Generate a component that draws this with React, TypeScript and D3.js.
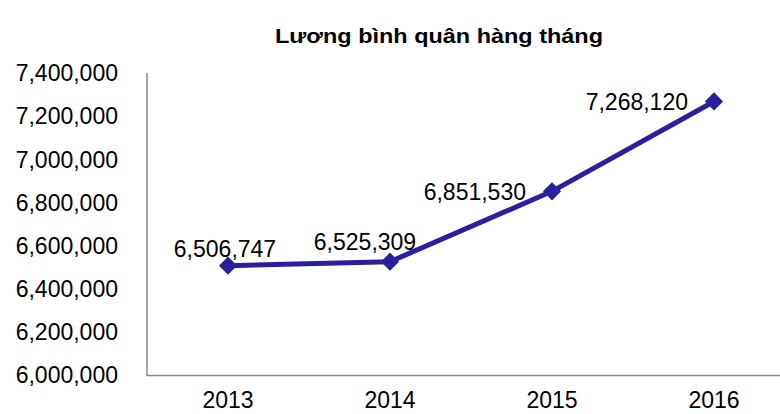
import React from "react";
import * as d3 from "d3";

const title = "Lương bình quân hàng tháng";
const years = ["2013", "2014", "2015", "2016"];
const salary = [6506747, 6525309, 6851530, 7268120];
const yTicks = [6000000, 6200000, 6400000, 6600000, 6800000, 7000000, 7200000, 7400000];
const labelPlacement = ["above", "aboveLeft", "left", "left"];

const W = 780;
const H = 414;
const font = "Liberation Sans, Arial, sans-serif";
const lineColor = "#2A1F9C";

export default function App() {
  const x = d3.scalePoint<string>().domain(years).range([147, 795]).padding(0.5);
  const y = d3.scaleLinear().domain([6000000, 7400000]).range([375, 73]);
  const fmt = d3.format(",");
  const line = d3
    .line<number>()
    .x((_, i) => x(years[i]) as number)
    .y((d) => y(d));
  const diamond = d3.symbol().type(d3.symbolDiamond2).size(210)();

  return (
    <svg width={W} height={H} style={{ position: "absolute", left: 0, top: 0, background: "#fff" }}>
      <text
        x={439}
        y={43}
        textAnchor="middle"
        fontFamily={font}
        fontWeight="bold"
        fontSize={21}
        textLength={328}
        lengthAdjust="spacingAndGlyphs"
        fill="#000"
      >
        {title}
      </text>
      {yTicks.map((t) => (
        <text
          key={t}
          x={118}
          y={y(t)}
          dy="0.36em"
          textAnchor="end"
          fontFamily={font}
          fontSize={23}
          fill="#000"
        >
          {fmt(t)}
        </text>
      ))}
      <line x1={147} x2={147} y1={73} y2={375.5} stroke="#8a8a8a" strokeWidth={1.5} />
      <line x1={146.25} x2={780} y1={375.5} y2={375.5} stroke="#8a8a8a" strokeWidth={1.5} />
      {years.map((yr) => (
        <text key={yr} x={x(yr)} y={408} textAnchor="middle" fontFamily={font} fontSize={23} fill="#000">
          {yr}
        </text>
      ))}
      <path d={line(salary) || ""} fill="none" stroke={lineColor} strokeWidth={5} strokeLinejoin="round" />
      {salary.map((v, i) => (
        <path key={i} d={diamond || ""} transform={`translate(${x(years[i])},${y(v)})`} fill={lineColor} />
      ))}
      {salary.map((v, i) => {
        const px = x(years[i]) as number;
        const py = y(v);
        const p = labelPlacement[i];
        let lx = px;
        let ly = py;
        let anchor: "middle" | "end" = "middle";
        let dy = "0";
        if (p === "above") {
          lx = px - 3;
          ly = py - 9;
        } else if (p === "aboveLeft") {
          lx = px - 25;
          ly = py - 12;
        } else {
          lx = px - 26;
          ly = py;
          anchor = "end";
          dy = "0.36em";
        }
        return (
          <text key={i} x={lx} y={ly} dy={dy} textAnchor={anchor} fontFamily={font} fontSize={23} fill="#000">
            {fmt(v)}
          </text>
        );
      })}
    </svg>
  );
}
